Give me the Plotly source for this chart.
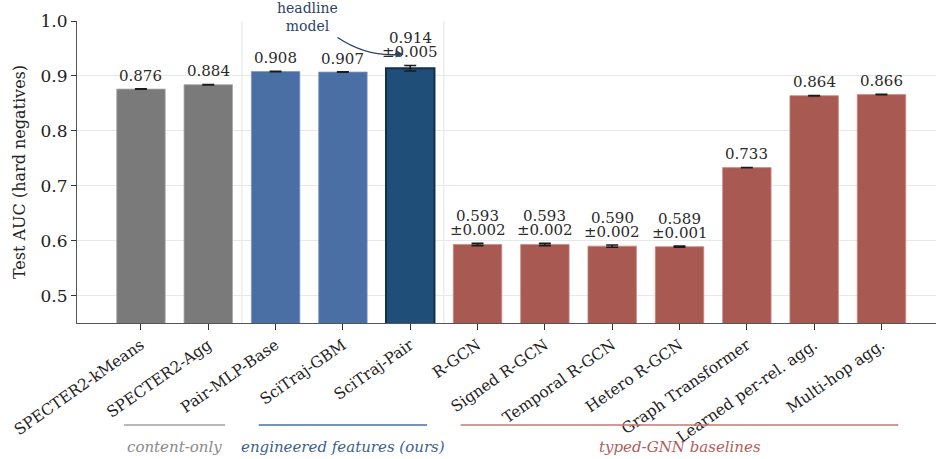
import plotly.graph_objects as go

# Test AUC on hard negatives, mean and std over seeds
models = [
    "SPECTER2-kMeans", "SPECTER2-Agg", "Pair-MLP-Base", "SciTraj-GBM", "SciTraj-Pair",
    "R-GCN", "Signed R-GCN", "Temporal R-GCN", "Hetero R-GCN", "Graph Transformer",
    "Learned per-rel. agg.", "Multi-hop agg.",
]
auc_mean = [0.876, 0.884, 0.908, 0.907, 0.914, 0.593, 0.593, 0.590, 0.589, 0.733, 0.864, 0.866]
auc_std = [0.0004, 0.0004, 0.0004, 0.0004, 0.005, 0.002, 0.002, 0.002, 0.001, 0.0003, 0.0004, 0.0004]
group = ["content", "content", "eng", "eng", "head", "gnn", "gnn", "gnn", "gnn", "gnn", "gnn", "gnn"]

group_names = ["content-only", "engineered features (ours)", "typed-GNN baselines"]
group_span = [(0, 1), (2, 4), (5, 11)]

FILL = {"content": "#7a7a7a", "eng": "#4a6fa5", "head": "#1f4e79", "gnn": "#a85a52"}
EDGE = {"content": "#a8a8a8", "eng": "#7d98c0", "head": "#12304d", "gnn": "#c88a84"}
EDGE_W = {"content": 0.8, "eng": 0.8, "head": 2.0, "gnn": 0.8}
LINE_COL = ["#a0a0a0", "#4a6fa5", "#c07a72"]
TEXT_COL = ["#8a8a8a", "#3b5f8e", "#b0605a"]

FONT = "DejaVu Serif"
xs = list(range(len(models)))

fig = go.Figure()
fig.add_trace(go.Bar(
    x=xs, y=auc_mean, width=0.72,
    marker=dict(color=[FILL[g] for g in group],
                line=dict(color=[EDGE[g] for g in group], width=[EDGE_W[g] for g in group])),
    error_y=dict(type="data", array=auc_std, visible=True, color="#1a1a1a", thickness=1.6, width=6),
    showlegend=False,
))

# value labels above each bar (std line added when it rounds to >= 0.001)
lab_font = dict(family=FONT, size=15, color="#2a2a2a")
for x, m, s in zip(xs, auc_mean, auc_std):
    shift = 2
    if round(s, 3) >= 0.001:
        fig.add_annotation(x=x, y=m + s, text=f"±{s:.3f}", showarrow=False, yanchor="bottom",
                           yshift=shift, font=lab_font)
        shift += 14
    fig.add_annotation(x=x, y=m + s, text=f"{m:.3f}", showarrow=False, yanchor="bottom",
                       yshift=shift, font=lab_font)

# separators between groups
for b in [1.5, 4.5]:
    fig.add_shape(type="line", xref="x", yref="paper", x0=b, x1=b, y0=0, y1=1,
                  line=dict(color="#e3e3e3", width=1), layer="below")

# group brackets and names under the tick labels
for (a, b), name, lc, tc in zip(group_span, group_names, LINE_COL, TEXT_COL):
    fig.add_shape(type="line", xref="x", yref="paper", x0=a - 0.25, x1=b + 0.25,
                  y0=-0.338, y1=-0.338, line=dict(color=lc, width=1.5))
    fig.add_annotation(x=(a + b) / 2, y=-0.411, xref="x", yref="paper", text=f"<i>{name}</i>",
                       showarrow=False, yanchor="middle",
                       font=dict(family=FONT, size=15, color=tc))

# headline callout with curved arrow
fig.add_annotation(x=2.47, y=1.0, xref="x", yref="paper", text="headline<br>model", showarrow=False,
                   yanchor="middle", yshift=4, font=dict(family=FONT, size=14, color="#2b4468"))
fig.add_shape(type="path", xref="x", yref="y",
              path="M 2.92,0.970 Q 3.35,0.935 3.82,0.939",
              line=dict(color="#2b4468", width=1.4))
fig.add_annotation(x=3.90, y=0.939, ax=-10, ay=-1, axref="pixel", ayref="pixel", text="",
                   showarrow=True, arrowhead=2, arrowsize=1.1, arrowwidth=1.4, arrowcolor="#2b4468")

fig.update_layout(
    width=936, height=459,
    margin=dict(l=77, r=0, t=21, b=136),
    paper_bgcolor="white", plot_bgcolor="white",
    font=dict(family=FONT, size=14, color="#222"),
)
fig.update_xaxes(
    range=[-0.95, 11.81], tickvals=xs, ticktext=models, tickangle=-35,
    tickfont=dict(family=FONT, size=15.5, color="#222"),
    showline=True, linecolor="#555", linewidth=1.2, ticks="outside", ticklen=6,
    tickcolor="#333", showgrid=False, zeroline=False,
)
fig.update_yaxes(
    range=[0.45, 1.0], tickvals=[0.5, 0.6, 0.7, 0.8, 0.9, 1.0], tickformat=".1f",
    tickfont=dict(family=FONT, size=17, color="#222"),
    title=dict(text="Test AUC (hard negatives)", font=dict(family=FONT, size=16, color="#222"), standoff=10),
    showline=True, linecolor="#555", linewidth=1.2, ticks="outside", ticklen=5, tickcolor="#333",
    showgrid=True, gridcolor="#e8e8e8", gridwidth=1, zeroline=False,
)

fig.write_html("out.html")
